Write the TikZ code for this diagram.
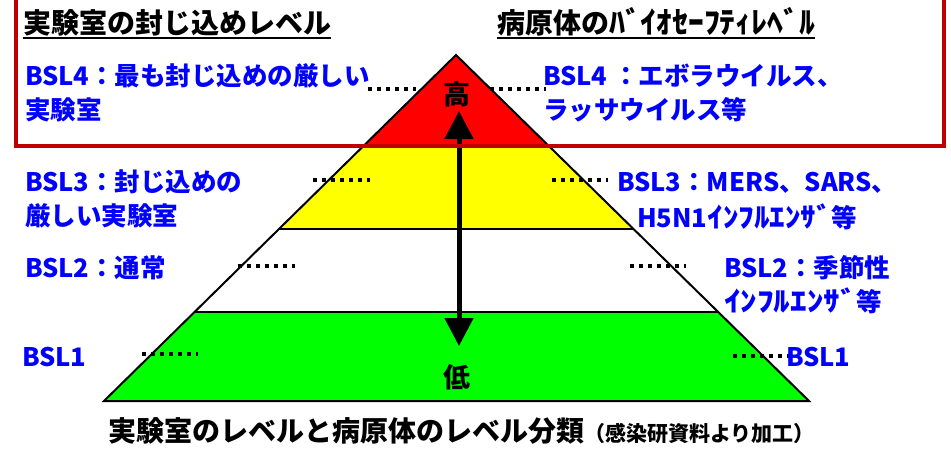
\documentclass[tikz,border=0pt]{standalone}
\usepackage{fontspec}
\usepackage{graphicx}
\setmainfont{Noto Sans CJK JP}
\usetikzlibrary{arrows.meta,calc}
\definecolor{boxred}{RGB}{192,0,0}
\definecolor{txtblue}{RGB}{0,0,255}
\definecolor{lvred}{RGB}{255,0,0}
\definecolor{lvyellow}{RGB}{255,255,0}
\definecolor{lvgreen}{RGB}{0,255,0}
\newcommand{\hkana}[2][1.22]{\scalebox{#1}[1.08]{#2}}
\tikzset{
  blue txt/.style={anchor=west,inner sep=0pt,text=txtblue,align=left,
    font=\bfseries\fontsize{25.5}{34}\selectfont},
  head txt/.style={anchor=base west,inner sep=0pt,text=black,
    font=\bfseries\fontsize{28}{30}\selectfont},
  level txt/.style={inner sep=0pt,text=black,font=\bfseries\fontsize{27}{30}\selectfont},
  dots/.style={line width=3.5pt,dash pattern=on 3.5pt off 5.5pt,black},
  band/.style={draw=black,line width=2pt},
}
\begin{document}
\begin{tikzpicture}[x=1pt,y=-1pt]
\useasboundingbox (0,0) rectangle (951,448);
% pyramid coordinates
\coordinate (A) at (456,55);
\coordinate (BL) at (104,401);
\coordinate (BR) at (809,401);
\coordinate (L1) at ($(A)!0.263!(BL)$);
\coordinate (R1) at ($(A)!0.263!(BR)$);
\coordinate (L2) at ($(A)!0.503!(BL)$);
\coordinate (R2) at ($(A)!0.503!(BR)$);
\coordinate (L3) at ($(A)!0.743!(BL)$);
\coordinate (R3) at ($(A)!0.743!(BR)$);
% BSL4 left dots (behind)
\draw[dots] (368,89) -- (416,89);
% bands
\fill[lvred] (A) -- (L1) -- (R1) -- cycle;
\fill[lvyellow] (L1) -- (L2) -- (R2) -- (R1) -- cycle;
\fill[white] (L2) -- (L3) -- (R3) -- (R2) -- cycle;
\fill[lvgreen] (L3) -- (BL) -- (BR) -- (R3) -- cycle;
\draw[band] (L1) -- (R1);
\draw[band] (L2) -- (R2);
\draw[band] (L3) -- (R3);
\draw[band,line join=miter] (A) -- (BL) -- (BR) -- cycle;
% dotted leaders
\draw[dots] (490,89) -- (546,89);
\draw[dots] (313,180) -- (370,180);
\draw[dots] (552,180) -- (608,180);
\draw[dots] (238,266) -- (295,266);
\draw[dots] (630,266) -- (686,266);
\draw[dots] (142,354) -- (198,354);
\draw[dots] (733,356) -- (789,356);
% arrow
\coordinate (up) at (459,111);
\coordinate (dn) at (459,346);
\draw[line width=5pt,{Triangle[width=28pt,length=28pt]}-{Triangle[width=28pt,length=28pt]}] (up) -- (dn);
\node[level txt] (hi) at (457,94) {高};
\node[level txt] (lo) at (457,377) {低};
% red box
\draw[boxred,line width=4pt] (16,-10) rectangle (944,146);
% headers
\node[head txt] (h1) at (23,33) {実験室の封じ込めレベル};
\draw[line width=1.6pt] ([yshift=-5pt]h1.base west) -- ([yshift=-5pt]h1.base east);
\node[head txt] (h2) at (497,33) {病原体の\hkana[1.13]{ﾊﾞｲｵｾｰﾌﾃｨﾚﾍﾞﾙ}};
\draw[line width=1.6pt] ([yshift=-5pt]h2.base west) -- ([yshift=-5pt]h2.base east);
% blue labels
\node[blue txt] (l4) at (25,93) {BSL4：最も封じ込めの厳しい\\実験室};
\node[blue txt] (r4) at (543,93) {BSL4 ：エボラウイルス、\\ラッサウイルス等};
\node[blue txt] (l3) at (25,199) {BSL3：封じ込めの\\厳しい実験室};
\node[blue txt] (r3a) at (617,183) {BSL3：MERS、SARS、};
\node[blue txt] (r3b) at (637,217) {H5N1\hkana{ｲﾝﾌﾙｴﾝｻﾞ}等};
\node[blue txt] (l2) at (25,268) {BSL2：通常};
\node[blue txt] (r2) at (724,285) {BSL2：季節性\\\hkana[1.3]{ｲﾝﾌﾙｴﾝｻﾞ}等};
\node[blue txt] (l1) at (22,357) {BSL1};
\node[blue txt] (r1) at (786,357) {BSL1};
% caption
\node[anchor=west,inner sep=0pt,font=\bfseries\fontsize{28}{30}\selectfont] (cap) at (108,431)
  {実験室のレベルと病原体のレベル分類{\fontsize{21}{22}\selectfont（感染研資料より加工）}};
\end{tikzpicture}
\end{document}
